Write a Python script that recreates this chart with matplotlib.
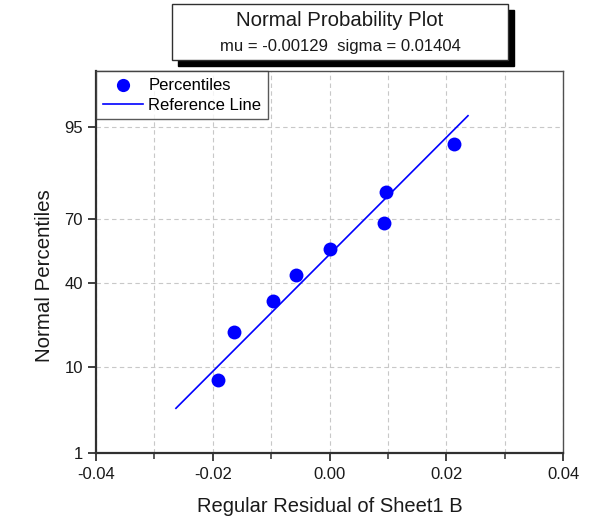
import matplotlib
matplotlib.use("Agg")
import matplotlib.pyplot as plt
from matplotlib.patches import Rectangle
from statistics import NormalDist

plt.rcParams['font.family'] = ['Liberation Sans', 'DejaVu Sans']

# Data
residuals = [-0.01905, -0.0163, -0.00968, -0.00579, 0.0000, 0.00928, 0.00973, 0.02133]
percentiles = [7.58, 19.70, 31.82, 43.94, 56.06, 68.18, 80.30, 92.42]
mu = -0.00129
sigma = 0.01404
line_pct = [3.74, 96.26]
y_ticks = [1, 10, 40, 70, 95]
x_ticks = [-0.04, -0.02, 0.00, 0.02, 0.04]
x_minor = [-0.03, -0.01, 0.01, 0.03]

nd = NormalDist()
def z(p):
    return nd.inv_cdf(p / 100.0)

fig = plt.figure(figsize=(5.96, 5.25), dpi=100)
ax = fig.add_axes([96/596, 1-453/525, (563-96)/596, (453-71)/525])

pz = [z(p) for p in percentiles]
lz = [z(p) for p in line_pct]
lx = [mu + sigma * v for v in lz]

ax.plot(lx, lz, color='#0000ff', lw=1.2, label='Reference Line', zorder=3)
ax.scatter(residuals, pz, s=100, color='#0000ff', label='Percentiles', zorder=4, linewidths=0)

ax.set_xlim(-0.04, 0.04)
ax.set_ylim(z(1), z(99))
ax.set_xticks(x_ticks)
ax.set_xticklabels([f"{v:.2f}" for v in x_ticks])
ax.set_xticks(x_minor, minor=True)
ax.set_yticks([z(v) for v in y_ticks])
ax.set_yticklabels([str(v) for v in y_ticks])

ax.grid(True, which='both', axis='x', color='#c8c8c8', ls=(0, (4, 3)), lw=0.8)
ax.grid(True, which='major', axis='y', color='#c8c8c8', ls=(0, (4, 3)), lw=0.8)
ax.set_axisbelow(True)

for s in ['left', 'bottom']:
    ax.spines[s].set_linewidth(1.6)
    ax.spines[s].set_color('#303030')
for s in ['right', 'top']:
    ax.spines[s].set_linewidth(1.0)
    ax.spines[s].set_color('#505050')

ax.tick_params(axis='both', which='major', direction='out', length=6, width=1.3,
               color='#303030', labelsize=12, labelcolor='#1a1a1a')
ax.tick_params(axis='x', which='major', pad=4)
ax.tick_params(axis='x', which='minor', direction='out', length=4, width=1.1, color='#303030')

ax.set_xlabel('Regular Residual of Sheet1 B', fontsize=14.5, labelpad=11, color='#1a1a1a')
ax.set_ylabel('Normal Percentiles', fontsize=14.8, color='#1a1a1a')
ax.yaxis.set_label_coords(-0.09, (453-276)/382)

handles, labels = ax.get_legend_handles_labels()
leg = ax.legend(handles[::-1], labels[::-1], loc='upper left', bbox_to_anchor=(0.0, 1.0),
                fontsize=12, frameon=True, fancybox=False, borderaxespad=0.0,
                handlelength=2.4, handletextpad=0.35, borderpad=0.4, labelspacing=0.3,
                markerscale=0.95)
leg.get_frame().set_edgecolor('#303030')
leg.get_frame().set_linewidth(1.0)

# Title box with shadow
bx0, by0, bx1, by1 = 172, 4, 508, 60
off = 6
fig.patches.append(Rectangle(((bx0+off)/596, 1-(by1+off)/525), (bx1-bx0)/596, (by1-by0)/525,
                             transform=fig.transFigure, facecolor='black', edgecolor='black', zorder=1))
fig.patches.append(Rectangle((bx0/596, 1-by1/525), (bx1-bx0)/596, (by1-by0)/525,
                             transform=fig.transFigure, facecolor='white', edgecolor='#303030', lw=1.0, zorder=2))
fig.text((bx0+bx1)/2/596, 1-20/525, 'Normal Probability Plot', ha='center', va='center', fontsize=14.7, color='#1a1a1a', zorder=3)
fig.text((bx0+bx1)/2/596, 1-46/525, f'mu = {mu:.5f}  sigma = {sigma:.5f}', ha='center', va='center', fontsize=12, color='#1a1a1a', zorder=3)

fig.savefig('out.png', dpi=100)
